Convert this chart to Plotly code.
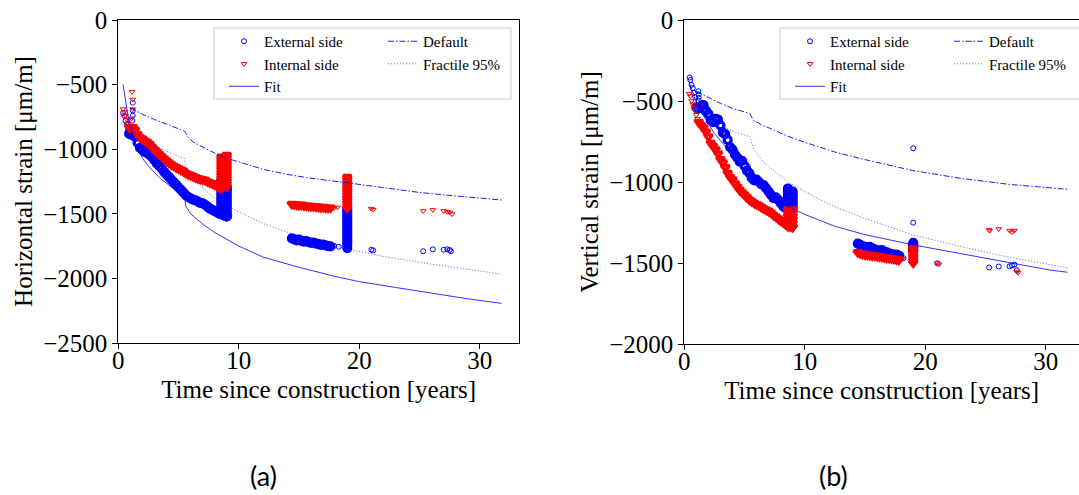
import plotly.graph_objects as go

W, H = 1079, 495
BLUE = "#0000ff"
RED = "#ff0000"
SERIF = "Liberation Serif"

# ---------------- Panel (a): horizontal strain ----------------
# External side (blue circles)
a_ext_early_t = [0.4, 0.5, 0.6, 0.7, 0.8, 1.2, 1.2, 1.2, 1.15]
a_ext_early_v = [-720, -740, -780, -810, -840, -640, -700, -740, -780]
a_ext_band_t = [0.9, 1.0, 1.2, 1.4, 1.6, 1.8, 2.0, 2.2, 2.4, 2.6, 2.8, 3.0, 3.2, 3.4,
                3.6, 3.8, 4.0, 4.2, 4.4, 4.6, 4.8, 5.0, 5.2, 5.4, 5.6, 5.8, 6.0, 6.2,
                6.4, 6.6, 6.8, 7.0, 7.2, 7.4, 7.6, 7.8, 8.0, 8.2, 8.4, 8.6, 8.8, 9.0]
a_ext_band_v = [-880, -885, -890, -905, -950, -990, -1005, -1020, -1030, -1045, -1060,
                -1085, -1110, -1130, -1150, -1175, -1195, -1215, -1235, -1255, -1275,
                -1295, -1315, -1335, -1355, -1370, -1380, -1390, -1395, -1405, -1415,
                -1420, -1430, -1445, -1460, -1470, -1480, -1490, -1500, -1505, -1515, -1520]
a_ext_bar1_t = 8.55
a_ext_bar1_v = [-1240, -1260, -1280, -1300, -1320, -1340, -1360, -1380, -1400, -1420,
                -1440, -1460, -1480, -1500]
a_ext_bar2_t = 9.0
a_ext_bar2_v = [-1290, -1310, -1330, -1350, -1370, -1390, -1410, -1430, -1450, -1470,
                -1490, -1510, -1520]
a_ext_cluster_t = [14.4, 14.6, 14.8, 15.0, 15.2, 15.4, 15.6, 15.8, 16.0, 16.2, 16.4,
                   16.6, 16.8, 17.0, 17.2, 17.4, 17.6]
a_ext_cluster_v = [-1690, -1698, -1705, -1700, -1710, -1715, -1712, -1720, -1725, -1722,
                   -1730, -1735, -1740, -1738, -1745, -1750, -1752]
a_ext_bar3_t = 19.0
a_ext_bar3_v = [-1460, -1480, -1500, -1520, -1540, -1560, -1580, -1600, -1620, -1640,
                -1660, -1680, -1700, -1720, -1740, -1765]
a_ext_late_t = [17.9, 18.3, 21.0, 21.15, 25.3, 26.1, 27.0, 27.3, 27.5, 27.6]
a_ext_late_v = [-1748, -1755, -1778, -1783, -1790, -1775, -1778, -1775, -1780, -1790]

# Internal side (red triangles)
a_int_early_t = [0.4, 0.5, 0.6, 0.7, 0.8, 1.15, 1.2, 1.2, 1.1]
a_int_early_v = [-690, -710, -740, -770, -800, -555, -615, -690, -760]
a_int_band_t = [0.9, 1.0, 1.2, 1.4, 1.6, 1.8, 2.0, 2.2, 2.4, 2.6, 2.8, 3.0, 3.2, 3.4,
                3.6, 3.8, 4.0, 4.2, 4.4, 4.6, 4.8, 5.0, 5.2, 5.4, 5.6, 5.8, 6.0, 6.2,
                6.4, 6.6, 6.8, 7.0, 7.2, 7.4, 7.6, 7.8, 8.0, 8.2, 8.4, 8.6]
a_int_band_v = [-830, -835, -830, -850, -885, -910, -920, -935, -945, -960, -985, -1005,
                -1020, -1040, -1058, -1075, -1090, -1105, -1120, -1130, -1140, -1150,
                -1160, -1170, -1185, -1195, -1200, -1210, -1218, -1225, -1230, -1235,
                -1240, -1250, -1258, -1265, -1275, -1285, -1295, -1300]
a_int_bar1_t = 8.55
a_int_bar1_v = [-1060, -1080, -1100, -1120, -1140, -1160, -1180, -1200, -1220, -1240,
                -1260, -1280, -1300]
a_int_bar2_t = 9.0
a_int_bar2_v = [-1045, -1065, -1085, -1105, -1125, -1145, -1165, -1185, -1205, -1225,
                -1245, -1265, -1290]
a_int_cluster_t = [14.4, 14.6, 14.8, 15.0, 15.2, 15.4, 15.6, 15.8, 16.0, 16.2, 16.4,
                   16.6, 16.8, 17.0, 17.2, 17.4, 17.6]
a_int_cluster_v = [-1425, -1428, -1430, -1432, -1430, -1435, -1438, -1440, -1440, -1443,
                   -1445, -1447, -1450, -1448, -1452, -1455, -1453]
a_int_bar3_t = 19.0
a_int_bar3_v = [-1215, -1235, -1255, -1275, -1295, -1315, -1335, -1355, -1375, -1395,
                -1415, -1435, -1455]
a_int_late_t = [17.9, 18.2, 21.0, 21.15, 25.3, 26.1, 27.0, 27.3, 27.5, 27.7]
a_int_late_v = [-1455, -1450, -1460, -1468, -1478, -1470, -1478, -1485, -1490, -1502]

# Model curves (a)
a_fit_t = [0.4, 0.6, 0.8, 1.0, 1.5, 2.0, 2.5, 3.0, 3.6, 4.5, 5.5, 5.6, 5.8, 6.0, 6.5,
           7.0, 8.0, 9.0, 10.0, 12.0, 15.0, 18.0, 20.0, 23.0, 26.0, 29.0, 31.8]
a_fit_v = [-500, -640, -740, -830, -970, -1070, -1130, -1180, -1235, -1300, -1362,
           -1440, -1475, -1500, -1540, -1580, -1645, -1700, -1750, -1835, -1914,
           -1985, -2025, -2070, -2116, -2158, -2193]
a_def_t = [1.0, 1.5, 2.0, 3.0, 4.0, 5.0, 5.5, 5.6, 5.8, 6.2, 7.0, 8.0, 9.0, 10.0, 12.0,
           14.0, 16.0, 19.0, 22.0, 25.0, 28.0, 31.8]
a_def_v = [-680, -705, -730, -770, -805, -840, -860, -875, -905, -945, -985, -1030,
           -1070, -1100, -1155, -1195, -1225, -1260, -1297, -1335, -1362, -1393]
a_fr_t = [0.6, 1.0, 1.5, 2.0, 2.75, 3.5, 4.5, 5.5, 5.6, 5.8, 6.0, 7.0, 8.0, 9.0, 10.0,
          12.0, 15.0, 19.0, 22.0, 26.0, 31.8]
a_fr_v = [-740, -820, -880, -920, -955, -995, -1035, -1072, -1140, -1170, -1200, -1300,
          -1380, -1435, -1485, -1575, -1675, -1772, -1830, -1890, -1966]

# ---------------- Panel (b): vertical strain ----------------
b_ext_early_t = [0.45, 0.5, 0.6, 0.7, 0.8, 0.9, 1.15, 1.2, 1.2, 1.2]
b_ext_early_v = [-355, -370, -400, -420, -450, -475, -440, -460, -480, -500]
b_ext_band_t = [1.0, 1.2, 1.4, 1.6, 1.8, 2.0, 2.2, 2.4, 2.6, 2.8, 3.0, 3.2, 3.4, 3.6,
                3.8, 4.0, 4.2, 4.4, 4.6, 4.8, 5.0, 5.2, 5.4, 5.6, 5.8, 6.0, 6.2, 6.4,
                6.6, 6.8, 7.0, 7.2, 7.4, 7.6, 7.8, 8.0, 8.2, 8.4, 8.6]
b_ext_band_v = [-540, -545, -530, -525, -560, -580, -620, -630, -610, -615, -650, -695,
                -705, -740, -785, -800, -830, -850, -875, -870, -900, -930, -945, -975,
                -990, -985, -1000, -1015, -1020, -1040, -1060, -1080, -1100, -1095,
                -1110, -1130, -1150, -1160, -1165]
b_ext_bar1_t = 8.6
b_ext_bar1_v = [-1040, -1060, -1080, -1100, -1120, -1140, -1160]
b_ext_bar2_t = 9.0
b_ext_bar2_v = [-1060, -1080, -1100, -1120, -1140, -1160]
b_ext_cluster_t = [14.4, 14.6, 14.8, 15.0, 15.2, 15.4, 15.6, 15.8, 16.0, 16.2, 16.4,
                   16.6, 16.8, 17.0, 17.2, 17.4, 17.6, 17.8]
b_ext_cluster_v = [-1380, -1388, -1395, -1400, -1405, -1400, -1410, -1415, -1420, -1425,
                   -1420, -1430, -1435, -1440, -1445, -1450, -1448, -1455]
b_ext_bar3_t = 19.0
b_ext_bar3_v = [-1375, -1385, -1395, -1405, -1415, -1425]
b_ext_late_t = [18.0, 18.2, 19.0, 19.0, 21.0, 25.3, 26.1, 27.0, 27.2, 27.4, 27.6]
b_ext_late_v = [-1450, -1470, -792, -1251, -1502, -1528, -1522, -1520, -1515, -1510,
                -1545]

b_int_early_t = [0.4, 0.5, 0.6, 0.7, 0.8, 0.9, 1.0, 1.1]
b_int_early_v = [-455, -470, -500, -520, -545, -560, -585, -610]
b_int_band_t = [1.2, 1.4, 1.6, 1.8, 2.0, 2.2, 2.4, 2.6, 2.8, 3.0, 3.2, 3.4, 3.6, 3.8,
                4.0, 4.2, 4.4, 4.6, 4.8, 5.0, 5.2, 5.4, 5.6, 5.8, 6.0, 6.2, 6.4, 6.6,
                6.8, 7.0, 7.2, 7.4, 7.6, 7.8, 8.0, 8.2, 8.4, 8.6, 8.8, 9.0]
b_int_band_v = [-630, -650, -665, -690, -720, -760, -780, -800, -825, -860, -880, -910,
                -945, -970, -985, -1010, -1030, -1050, -1065, -1080, -1095, -1110, -1120,
                -1130, -1138, -1145, -1155, -1165, -1172, -1180, -1190, -1205, -1215,
                -1228, -1238, -1250, -1262, -1272, -1275, -1278]
b_int_bar1_t = 8.6
b_int_bar1_v = [-1170, -1190, -1210, -1230, -1250, -1270]
b_int_bar2_t = 9.0
b_int_bar2_v = [-1170, -1190, -1210, -1230, -1250, -1275]
b_int_cluster_t = [14.4, 14.6, 14.8, 15.0, 15.2, 15.4, 15.6, 15.8, 16.0, 16.2, 16.4,
                   16.6, 16.8, 17.0, 17.2, 17.4, 17.6, 17.8]
b_int_cluster_v = [-1435, -1440, -1445, -1448, -1450, -1452, -1455, -1455, -1458, -1460,
                   -1462, -1465, -1468, -1470, -1472, -1475, -1478, -1480]
b_int_bar3_t = 19.0
b_int_bar3_v = [-1410, -1425, -1440, -1455, -1470, -1485, -1500]
b_int_late_t = [18.1, 21.0, 21.15, 25.3, 25.35, 26.1, 27.0, 27.2, 27.4, 27.6, 27.7]
b_int_late_v = [-1475, -1500, -1508, -1296, -1300, -1290, -1300, -1310, -1300, -1553,
                -1560]

b_fit_t = [0.4, 0.7, 1.0, 1.5, 2.0, 2.5, 3.0, 3.5, 4.0, 4.5, 5.0, 5.45, 5.6, 5.8, 6.1,
           7.0, 8.0, 9.2, 10.0, 12.4, 15.0, 19.0, 22.0, 26.0, 30.3, 31.8]
b_fit_v = [-380, -450, -510, -580, -640, -700, -745, -790, -830, -860, -882, -895, -950,
           -985, -1008, -1075, -1130, -1172, -1200, -1271, -1325, -1388, -1430, -1487,
           -1543, -1557]
b_def_t = [1.0, 1.3, 2.0, 3.0, 4.0, 5.0, 5.45, 5.6, 5.7, 6.5, 7.0, 8.5, 10.0, 12.5, 15.0,
           19.0, 23.0, 27.0, 31.8]
b_def_v = [-440, -452, -480, -515, -545, -568, -578, -600, -617, -650, -665, -715, -755,
           -815, -862, -930, -978, -1015, -1045]
b_fr_t = [1.0, 2.0, 3.0, 4.0, 5.0, 5.45, 5.6, 5.8, 6.5, 7.7, 8.8, 10.0, 11.3, 12.4, 15.0,
          19.0, 23.0, 27.0, 31.8]
b_fr_v = [-555, -610, -650, -685, -710, -720, -760, -805, -870, -946, -1008, -1060, -1111,
          -1150, -1225, -1327, -1400, -1465, -1530]

x_ticks = [0, 10, 20, 30]
a_y_ticks = [0, -500, -1000, -1500, -2000, -2500]
b_y_ticks = [0, -500, -1000, -1500, -2000]


def gather(parts):
    ts, vs = [], []
    for t, v in parts:
        if isinstance(t, (int, float)):
            t = [t] * len(v)
        assert len(t) == len(v)
        ts += list(t)
        vs += list(v)
    return ts, vs


# dense (overlapping) recordings and sparse single readings
a_ext_dense = gather([(a_ext_band_t, a_ext_band_v), (a_ext_bar1_t, a_ext_bar1_v),
                      (a_ext_bar2_t, a_ext_bar2_v), (a_ext_cluster_t, a_ext_cluster_v),
                      (a_ext_bar3_t, a_ext_bar3_v)])
a_ext_sparse = gather([(a_ext_early_t, a_ext_early_v), (a_ext_late_t, a_ext_late_v)])
a_int_dense = gather([(a_int_band_t, a_int_band_v), (a_int_bar1_t, a_int_bar1_v),
                      (a_int_bar2_t, a_int_bar2_v), (a_int_cluster_t, a_int_cluster_v),
                      (a_int_bar3_t, a_int_bar3_v)])
a_int_sparse = gather([(a_int_early_t, a_int_early_v), (a_int_late_t, a_int_late_v)])
b_ext_dense = gather([(b_ext_band_t, b_ext_band_v), (b_ext_bar1_t, b_ext_bar1_v),
                      (b_ext_bar2_t, b_ext_bar2_v), (b_ext_cluster_t, b_ext_cluster_v),
                      (b_ext_bar3_t, b_ext_bar3_v)])
b_ext_sparse = gather([(b_ext_early_t, b_ext_early_v), (b_ext_late_t, b_ext_late_v)])
b_int_dense = gather([(b_int_band_t, b_int_band_v), (b_int_bar1_t, b_int_bar1_v),
                      (b_int_bar2_t, b_int_bar2_v), (b_int_cluster_t, b_int_cluster_v),
                      (b_int_bar3_t, b_int_bar3_v)])
b_int_sparse = gather([(b_int_early_t, b_int_early_v), (b_int_late_t, b_int_late_v)])

fig = go.Figure()

EXT_M = dict(symbol="circle-open", size=5, color=BLUE, line=dict(width=1, color=BLUE))
INT_M = dict(symbol="triangle-down-open", size=5, color=RED, line=dict(width=1, color=RED))
EXT_MD = dict(symbol="circle-open", size=7, color=BLUE, line=dict(width=3.2, color=BLUE))
INT_MD = dict(symbol="triangle-down-open", size=7, color=RED, line=dict(width=3.2, color=RED))
FIT_L = dict(color="rgba(0,0,255,0.8)", width=1)
DEF_L = dict(color="rgba(0,0,255,0.9)", width=1, dash="6px,2px,1.5px,2px")
FR_L = dict(color="rgba(0,0,255,0.55)", width=1, dash="1.2px,1.8px")


def add_panel(ext_s, ext_d, int_s, int_d, fit, dfl, frc, xa, ya, lg1, lg2, grp):
    fig.add_trace(go.Scatter(x=ext_s[0], y=ext_s[1], mode="markers", marker=EXT_M,
                             name="External side", xaxis=xa, yaxis=ya, legend=lg1,
                             legendgroup=grp + "e"))
    fig.add_trace(go.Scatter(x=ext_d[0], y=ext_d[1], mode="markers", marker=EXT_MD,
                             name="External side", xaxis=xa, yaxis=ya, legend=lg1,
                             legendgroup=grp + "e", showlegend=False))
    fig.add_trace(go.Scatter(x=int_s[0], y=int_s[1], mode="markers", marker=INT_M,
                             name="Internal side", xaxis=xa, yaxis=ya, legend=lg1,
                             legendgroup=grp + "i"))
    fig.add_trace(go.Scatter(x=int_d[0], y=int_d[1], mode="markers", marker=INT_MD,
                             name="Internal side", xaxis=xa, yaxis=ya, legend=lg1,
                             legendgroup=grp + "i", showlegend=False))
    fig.add_trace(go.Scatter(x=fit[0], y=fit[1], mode="lines", line=FIT_L,
                             name="Fit", xaxis=xa, yaxis=ya, legend=lg1))
    fig.add_trace(go.Scatter(x=dfl[0], y=dfl[1], mode="lines", line=DEF_L,
                             name="Default", xaxis=xa, yaxis=ya, legend=lg2))
    fig.add_trace(go.Scatter(x=frc[0], y=frc[1], mode="lines", line=FR_L,
                             name="Fractile 95%", xaxis=xa, yaxis=ya, legend=lg2))


add_panel(a_ext_sparse, a_ext_dense, a_int_sparse, a_int_dense,
          (a_fit_t, a_fit_v), (a_def_t, a_def_v), (a_fr_t, a_fr_v),
          "x", "y", "legend", "legend2", "a")
add_panel(b_ext_sparse, b_ext_dense, b_int_sparse, b_int_dense,
          (b_fit_t, b_fit_v), (b_def_t, b_def_v), (b_fr_t, b_fr_v),
          "x2", "y2", "legend3", "legend4", "b")


def px_x(p):
    return p / W


def px_y(p):
    return 1 - p / H


tick_font = dict(family=SERIF, size=25, color="black")
title_font = dict(family=SERIF, size=25, color="black")
axis_common = dict(showline=True, linecolor="black", linewidth=1, ticks="outside",
                   ticklen=5, tickwidth=1, tickcolor="black", showgrid=False,
                   zeroline=False, tickfont=tick_font)

leg_common = dict(xanchor="left", yanchor="top", bgcolor="rgba(0,0,0,0)", borderwidth=0,
                  font=dict(family=SERIF, size=15, color="black"), tracegroupgap=0,
                  groupclick="toggleitem")

fig.update_layout(
    width=W, height=H, margin=dict(l=0, r=0, t=0, b=0, autoexpand=False),
    paper_bgcolor="white", plot_bgcolor="white",
    xaxis=dict(domain=[px_x(118.3), px_x(519)], range=[0, 33.25], tickvals=x_ticks,
               mirror=True, anchor="y", ticklabelstandoff=-10,
               title=dict(text="Time since construction [years]", font=title_font, standoff=7),
               **axis_common),
    yaxis=dict(domain=[px_y(343), px_y(20)], range=[-2500, 0], tickvals=a_y_ticks,
               mirror=True, anchor="x",
               title=dict(text="Horizontal strain [μm/m]", font=title_font, standoff=3),
               **axis_common),
    xaxis2=dict(domain=[px_x(684.3), 1], range=[0, 32.76], tickvals=x_ticks,
                mirror=True, anchor="y2", ticklabelstandoff=-10,
                title=dict(text="Time since construction [years]", font=title_font, standoff=7),
                **axis_common),
    yaxis2=dict(domain=[px_y(344), px_y(20)], range=[-2000, 0], tickvals=b_y_ticks,
                mirror=False, anchor="x2",
                title=dict(text="Vertical strain [μm/m]", font=title_font, standoff=3),
                **axis_common),
    legend=dict(x=px_x(224), y=px_y(25), **leg_common),
    legend2=dict(x=px_x(383), y=px_y(25), **leg_common),
    legend3=dict(x=px_x(790), y=px_y(25), **leg_common),
    legend4=dict(x=px_x(949), y=px_y(25), **leg_common),
    showlegend=True,
    shapes=[
        dict(type="rect", xref="paper", yref="paper", x0=px_x(214), x1=px_x(511),
             y0=px_y(99), y1=px_y(28), line=dict(color="#cccccc", width=1),
             fillcolor="rgba(255,255,255,0.8)", layer="above"),
        dict(type="rect", xref="paper", yref="paper", x0=px_x(780), x1=px_x(1085),
             y0=px_y(99), y1=px_y(28), line=dict(color="#cccccc", width=1),
             fillcolor="rgba(255,255,255,0.8)", layer="above"),
    ],
    annotations=[
        dict(text="(a)", x=px_x(263), y=px_y(475), xref="paper", yref="paper",
             xanchor="center", yanchor="middle",
             showarrow=False, font=dict(family="Lato", size=27, color="black")),
        dict(text="(b)", x=px_x(833), y=px_y(475), xref="paper", yref="paper",
             xanchor="center", yanchor="middle",
             showarrow=False, font=dict(family="Lato", size=27, color="black")),
    ],
)

fig.write_html("out.html", config={"displayModeBar": False},
               post_script="document.body.style.margin='0';")
